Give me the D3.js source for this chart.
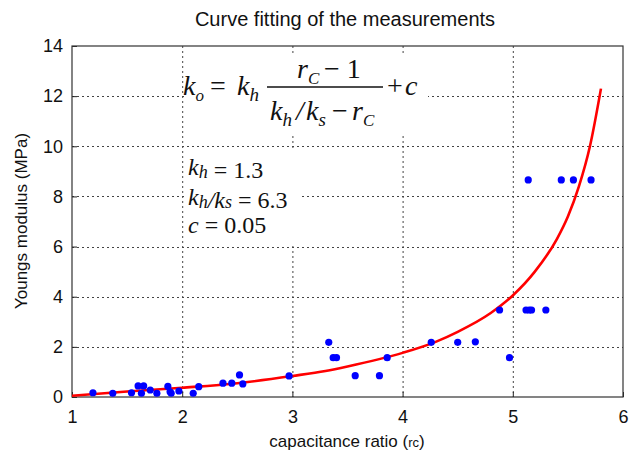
<!DOCTYPE html>
<html><head><meta charset="utf-8">
<script src="https://cdn.jsdelivr.net/npm/d3@7"></script>
<style>body{margin:0;background:#fff}svg{display:block}</style>
</head><body>
<svg id="c" width="631" height="452"></svg>
<script>
// measured points (capacitance ratio, Youngs modulus MPa)
const pointR = [1.19,1.37,1.54,1.60,1.65,1.63,1.71,1.77,1.87,1.89,1.90,1.97,2.10,2.15,2.37,2.45,2.52,2.55,
  2.97,3.33,3.37,3.40,3.57,3.79,3.86,4.26,4.50,4.66,4.88,4.97,5.12,5.15,5.17,5.30,5.14,5.44,5.55,5.71];
const pointK = [0.17,0.15,0.17,0.44,0.44,0.15,0.28,0.15,0.42,0.21,0.15,0.24,0.15,0.41,0.55,0.55,0.88,0.52,
  0.84,2.18,1.57,1.57,0.85,0.85,1.57,2.18,2.18,2.20,3.47,1.57,3.47,3.47,3.47,3.47,8.66,8.66,8.66,8.66];
// fitted curve
const curveR = [1.0,1.5,2.0,2.5,3.0,3.3,3.5,4.0,4.3,4.5,4.8,5.0,5.2,5.4,5.5,5.6,5.7,5.8];
const curveK = [0.05,0.22,0.37,0.55,0.84,1.04,1.22,1.76,2.2,2.6,3.35,4.05,5.0,6.3,7.2,8.4,10.0,12.3];
const xTicks = [1,2,3,4,5,6];
const yTicks = [0,2,4,6,8,10,12,14];
const title = "Curve fitting of the measurements";
const xLabel = "capacitance ratio (";
const yLabel = "Youngs modulus (MPa)";

const svg = d3.select("#c");
const L=72,R=623,T=46,B=397;
const x = d3.scaleLinear().domain([1,6]).range([L,R]);
const y = d3.scaleLinear().domain([0,14]).range([B,T]);

// grid
const grid = svg.append("g").attr("stroke","#444").attr("stroke-width",1).attr("stroke-dasharray","2,3");
xTicks.slice(1,-1).forEach(t=>grid.append("line").attr("x1",x(t)+0.5).attr("x2",x(t)+0.5).attr("y1",T).attr("y2",B));
yTicks.slice(1,-1).forEach(t=>grid.append("line").attr("y1",Math.round(y(t))+0.5).attr("y2",Math.round(y(t))+0.5).attr("x1",L).attr("x2",R));

// white boxes behind the annotations
svg.append("rect").attr("x",184).attr("y",53).attr("width",244).attr("height",81).attr("fill","#fff");
svg.append("rect").attr("x",184).attr("y",148).attr("width",116).attr("height",97).attr("fill","#fff");

// axes with inward ticks
const xAxis = d3.axisBottom(x).tickValues(xTicks).tickSize(-5).tickPadding(9).tickFormat(d3.format("d"));
const yAxis = d3.axisLeft(y).tickValues(yTicks).tickSize(-5).tickPadding(9).tickFormat(d3.format("d"));
const gx = svg.append("g").attr("transform",`translate(0,${B})`).call(xAxis);
const gy = svg.append("g").attr("transform",`translate(${L},0)`).call(yAxis);
[gx,gy].forEach(g=>{
  g.select(".domain").remove();
  g.selectAll("line").attr("stroke","#222");
  g.selectAll("text").attr("font-family","Liberation Sans, Arial, sans-serif").attr("font-size",18).attr("fill","#111");
});
gx.selectAll("text").attr("dy","0.95em");
// frame
svg.append("rect").attr("x",L).attr("y",T).attr("width",R-L).attr("height",B-T)
  .attr("fill","none").attr("stroke","#333").attr("stroke-width",1.2);

// curve
const line = d3.line().x((d,i)=>x(curveR[i])).y((d,i)=>y(curveK[i])).curve(d3.curveMonotoneX);
svg.append("path").attr("d",line(curveR)).attr("fill","none").attr("stroke","#ff0000").attr("stroke-width",2.6);

// points
svg.append("g").selectAll("circle").data(pointR).join("circle")
  .attr("cx",(d)=>x(d)).attr("cy",(d,i)=>y(pointK[i])).attr("r",3.6).attr("fill","#0000ff");

// title & labels
const sans = "Liberation Sans, Arial, sans-serif";
svg.append("text").attr("x",345).attr("y",26).attr("text-anchor","middle").attr("font-family",sans)
  .attr("font-size",20).attr("fill","#111").text(title);
const xl = svg.append("text").attr("x",347).attr("y",447).attr("text-anchor","middle").attr("font-family",sans)
  .attr("font-size",17).attr("fill","#111");
xl.append("tspan").text(xLabel);
xl.append("tspan").attr("font-size",13).text("rc");
xl.append("tspan").text(")");
svg.append("text").attr("transform","translate(27,221) rotate(-90)").attr("text-anchor","middle")
  .attr("font-family",sans).attr("font-size",17).attr("fill","#111").text(yLabel);

// formula
const serif = "Liberation Serif, Times New Roman, serif";
function term(g, xx, yy, base, sub, fs, subfs, subdy){
  const t = g.append("text").attr("x",xx).attr("y",yy).attr("font-family",serif).attr("font-size",fs).attr("fill","#111");
  t.append("tspan").attr("font-style","italic").text(base);
  if(sub) t.append("tspan").attr("font-style","italic").attr("font-size",subfs).attr("dy",subdy).text(sub);
  return t;
}
const f = svg.append("g");
term(f,183,95,"k","o",28,17,6);
f.append("text").attr("x",210).attr("y",95).attr("font-family",serif).attr("font-size",28).attr("fill","#111").text("=");
term(f,237,95,"k","h",28,19,6);
term(f,297,78,"r","C",28,17,6);
f.append("text").attr("x",324).attr("y",78).attr("font-family",serif).attr("font-size",28).attr("fill","#111").text("\u2212 1");
f.append("line").attr("x1",267).attr("x2",383).attr("y1",87).attr("y2",87).attr("stroke","#111").attr("stroke-width",1.4);
term(f,270,120,"k","h",28,19,6);
f.append("text").attr("x",296).attr("y",120).attr("font-family",serif).attr("font-size",28).attr("fill","#111").attr("font-style","italic").text("/");
term(f,306,120,"k","s",28,19,6);
f.append("text").attr("x",332).attr("y",120).attr("font-family",serif).attr("font-size",28).attr("fill","#111").text("\u2212");
term(f,352,120,"r","C",28,17,6);
f.append("text").attr("x",387).attr("y",95).attr("font-family",serif).attr("font-size",28).attr("fill","#111").text("+");
term(f,405,95,"c",null,28);

// parameters
function param(yy, parts, val){
  const t = svg.append("text").attr("x",188).attr("y",yy).attr("font-family",serif).attr("font-size",24).attr("fill","#111");
  parts.forEach(p=>{
    const s = t.append("tspan").text(p.t);
    if(p.i) s.attr("font-style","italic");
    if(p.sub) s.attr("font-size",18).attr("dy",p.dy);
  });
  t.append("tspan").text(val);
}
param(175,[{t:"k",i:1},{t:"h",i:1,sub:1,dy:3},{t:"",dy:-3,sub:1}]," = 1.3");
param(205,[{t:"k",i:1},{t:"h",i:1,sub:1,dy:3},{t:"/",i:1,sub:0},{t:"k",i:1},{t:"s",i:1,sub:1,dy:0},{t:"",sub:1,dy:-3}]," = 6.3");
param(233,[{t:"c",i:1}]," = 0.05");
</script>
</body></html>
